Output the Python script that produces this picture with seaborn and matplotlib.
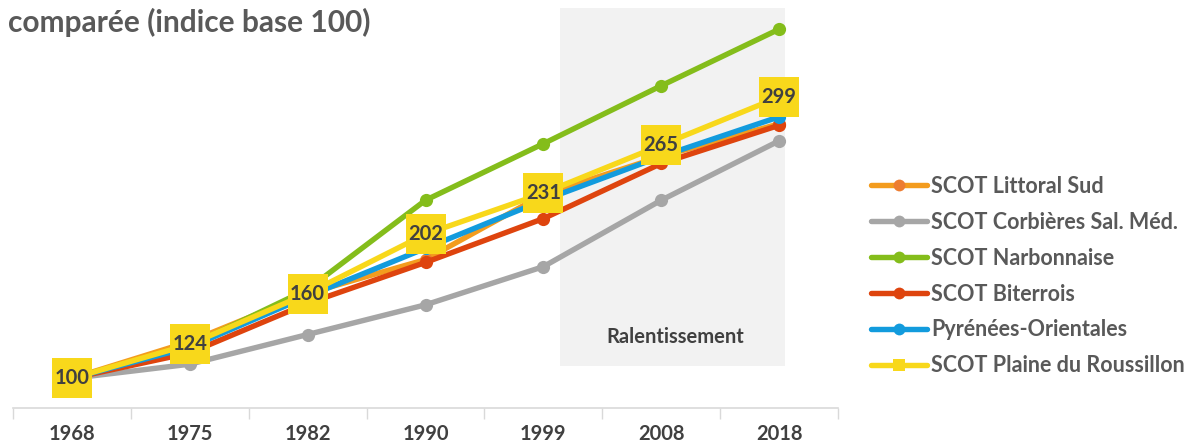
import matplotlib
matplotlib.use("Agg")
import matplotlib.pyplot as plt
from matplotlib.patches import Rectangle
from matplotlib.lines import Line2D
import seaborn as sns
import pandas as pd

years = ["1968", "1975", "1982", "1990", "1999", "2008", "2018"]
littoral_sud = [100, 126, 160, 184, 230, 257, 280]
corbieres = [100, 110, 131, 152, 179, 226, 268]
narbonnaise = [100, 123, 163, 226, 266, 307, 347]
biterrois = [100, 118, 153, 182, 213, 252, 279]
pyrenees = [100, 122, 158, 192, 226, 257, 285]
plaine_roussillon = [100, 124, 160, 202, 231, 265, 299]

series = [
    ("SCOT Littoral Sud", littoral_sud, "#F39C1E", "o", "#ED7D31"),
    ("SCOT Corbières Sal. Méd.", corbieres, "#A6A6A6", "o", "#A6A6A6"),
    ("SCOT Narbonnaise", narbonnaise, "#84BD1B", "o", "#84BD1B"),
    ("SCOT Biterrois", biterrois, "#DE440E", "o", "#DE440E"),
    ("Pyrénées-Orientales", pyrenees, "#129BDD", "o", "#129BDD"),
    ("SCOT Plaine du Roussillon", plaine_roussillon, "#F8D81B", "s", "#F8D81B"),
]

sns.set_theme(style="white")
plt.rcParams["font.family"] = ["Lato", "DejaVu Sans"]

fig = plt.figure(figsize=(11.94, 4.43), dpi=100)
ax = fig.add_axes([13 / 1194, 1 - 408 / 443, (838 - 13) / 1194, (408 - 8) / 443])

x_idx = list(range(len(years)))

# shaded "Ralentissement" zone
ax.add_patch(Rectangle((4.14, 109), 6.05 - 4.14, 362 - 109, facecolor="#F2F2F2",
                       edgecolor="none", zorder=0))
ax.text(5.12, 129.5, "Ralentissement", ha="center", va="center", fontsize=14.5,
        fontweight="bold", color="#404040", zorder=1)

handles = []
for i, (name, vals, col, mk, mcol) in enumerate(series):
    df = pd.DataFrame({"x": x_idx, "y": vals})
    sns.lineplot(data=df, x="x", y="y", ax=ax, color=col, linewidth=3.9,
                 marker=mk if mk == "o" else None, markersize=9.5,
                 markerfacecolor=mcol, markeredgewidth=0, zorder=2 + i)
    handles.append(Line2D([0], [0], color=col, linewidth=3.9, marker=mk,
                          markersize=8.5, markerfacecolor=mcol, markeredgewidth=0))

# label boxes for SCOT Plaine du Roussillon
dfl = pd.DataFrame({"x": x_idx, "y": plaine_roussillon})
sns.scatterplot(data=dfl, x="x", y="y", ax=ax, marker="s", s=860, color="#F8D81B",
                linewidth=0, zorder=10)
for xi, v in zip(x_idx, plaine_roussillon):
    ax.text(xi, v, str(v), ha="center", va="center", fontsize=14.5,
            fontweight="bold", color="#404040", zorder=11)

ax.set_xlim(-0.5, 6.5)
ax.set_ylim(79, 362)
ax.set_xlabel("")
ax.set_ylabel("")
ax.set_yticks([])
ax.set_xticks(x_idx)
ax.set_xticklabels(years, fontsize=14.5, fontweight="bold", color="#404040")
ax.set_xticks([i - 0.5 for i in range(len(years) + 1)], minor=True)
ax.tick_params(axis="x", which="major", length=0, pad=11.5)
ax.tick_params(axis="x", which="minor", length=8, width=1, color="#D9D9D9",
               direction="out", bottom=True)
for s in ["top", "right", "left"]:
    ax.spines[s].set_visible(False)
ax.spines["bottom"].set_color("#D9D9D9")
ax.spines["bottom"].set_linewidth(1.2)
ax.patch.set_alpha(0)

fig.text(8 / 1194, 1 - 22 / 443, "comparée (indice base 100)", ha="left", va="center",
         fontsize=21.5, fontweight="bold", color="#595959")

leg = fig.legend(handles, [s[0] for s in series], loc="upper left",
                 bbox_to_anchor=(871 / 1194, 1 - 176 / 443), frameon=False,
                 prop={"size": 15.5, "weight": "bold"}, labelcolor="#595959",
                 handlelength=2.6, handletextpad=0.2, labelspacing=0.69,
                 borderaxespad=0, borderpad=0)

fig.savefig("out.png", dpi=100)
